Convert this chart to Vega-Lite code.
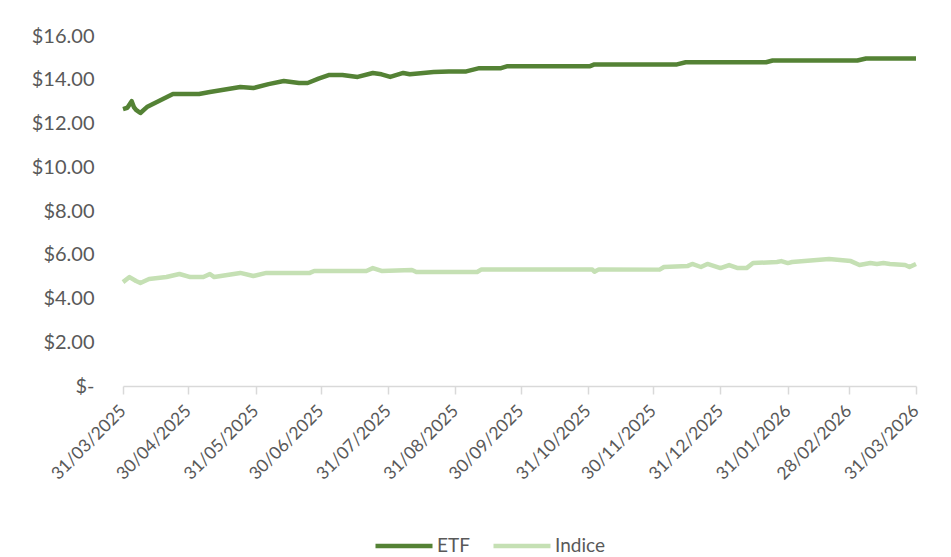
{
  "$schema": "https://vega.github.io/schema/vega-lite/v6.json",
  "width": 793,
  "height": 350,
  "autosize": {"type": "none"},
  "padding": {"left": 123, "top": 36, "right": 35, "bottom": 171},
  "background": "white",
  "view": {"stroke": null},
  "config": {"font": "Lato"},
  "datasets": {
    "prices": [
      {"date": "2025-03-31", "series": "ETF", "value": 12.66},
      {"date": "2025-04-02", "series": "ETF", "value": 12.72},
      {"date": "2025-04-04", "series": "ETF", "value": 13.02},
      {"date": "2025-04-05", "series": "ETF", "value": 12.75},
      {"date": "2025-04-06", "series": "ETF", "value": 12.62},
      {"date": "2025-04-08", "series": "ETF", "value": 12.48},
      {"date": "2025-04-11", "series": "ETF", "value": 12.75},
      {"date": "2025-04-17", "series": "ETF", "value": 13.05},
      {"date": "2025-04-23", "series": "ETF", "value": 13.35},
      {"date": "2025-05-05", "series": "ETF", "value": 13.35},
      {"date": "2025-05-10", "series": "ETF", "value": 13.44},
      {"date": "2025-05-17", "series": "ETF", "value": 13.55},
      {"date": "2025-05-24", "series": "ETF", "value": 13.67},
      {"date": "2025-05-30", "series": "ETF", "value": 13.62},
      {"date": "2025-06-06", "series": "ETF", "value": 13.80},
      {"date": "2025-06-13", "series": "ETF", "value": 13.94},
      {"date": "2025-06-20", "series": "ETF", "value": 13.85},
      {"date": "2025-06-24", "series": "ETF", "value": 13.85},
      {"date": "2025-06-29", "series": "ETF", "value": 14.05},
      {"date": "2025-07-04", "series": "ETF", "value": 14.22},
      {"date": "2025-07-10", "series": "ETF", "value": 14.22},
      {"date": "2025-07-17", "series": "ETF", "value": 14.13},
      {"date": "2025-07-24", "series": "ETF", "value": 14.31},
      {"date": "2025-07-28", "series": "ETF", "value": 14.25},
      {"date": "2025-08-01", "series": "ETF", "value": 14.13},
      {"date": "2025-08-07", "series": "ETF", "value": 14.31},
      {"date": "2025-08-10", "series": "ETF", "value": 14.25},
      {"date": "2025-08-15", "series": "ETF", "value": 14.30},
      {"date": "2025-08-21", "series": "ETF", "value": 14.35},
      {"date": "2025-08-28", "series": "ETF", "value": 14.38},
      {"date": "2025-09-05", "series": "ETF", "value": 14.38},
      {"date": "2025-09-11", "series": "ETF", "value": 14.53},
      {"date": "2025-09-21", "series": "ETF", "value": 14.53},
      {"date": "2025-09-24", "series": "ETF", "value": 14.62},
      {"date": "2025-11-01", "series": "ETF", "value": 14.62},
      {"date": "2025-11-03", "series": "ETF", "value": 14.70},
      {"date": "2025-12-11", "series": "ETF", "value": 14.70},
      {"date": "2025-12-15", "series": "ETF", "value": 14.80},
      {"date": "2026-01-21", "series": "ETF", "value": 14.80},
      {"date": "2026-01-24", "series": "ETF", "value": 14.88},
      {"date": "2026-03-04", "series": "ETF", "value": 14.88},
      {"date": "2026-03-08", "series": "ETF", "value": 14.97},
      {"date": "2026-03-31", "series": "ETF", "value": 14.97},
      {"date": "2025-03-31", "series": "Indice", "value": 4.75},
      {"date": "2025-04-03", "series": "Indice", "value": 4.98},
      {"date": "2025-04-06", "series": "Indice", "value": 4.80},
      {"date": "2025-04-08", "series": "Indice", "value": 4.71},
      {"date": "2025-04-12", "series": "Indice", "value": 4.89},
      {"date": "2025-04-20", "series": "Indice", "value": 4.98},
      {"date": "2025-04-26", "series": "Indice", "value": 5.12},
      {"date": "2025-05-01", "series": "Indice", "value": 4.98},
      {"date": "2025-05-07", "series": "Indice", "value": 4.98},
      {"date": "2025-05-10", "series": "Indice", "value": 5.12},
      {"date": "2025-05-12", "series": "Indice", "value": 4.98},
      {"date": "2025-05-24", "series": "Indice", "value": 5.17},
      {"date": "2025-05-30", "series": "Indice", "value": 5.03},
      {"date": "2025-06-05", "series": "Indice", "value": 5.17},
      {"date": "2025-06-25", "series": "Indice", "value": 5.17},
      {"date": "2025-06-27", "series": "Indice", "value": 5.26},
      {"date": "2025-07-21", "series": "Indice", "value": 5.26},
      {"date": "2025-07-24", "series": "Indice", "value": 5.39},
      {"date": "2025-07-28", "series": "Indice", "value": 5.26},
      {"date": "2025-08-11", "series": "Indice", "value": 5.30},
      {"date": "2025-08-13", "series": "Indice", "value": 5.21},
      {"date": "2025-09-10", "series": "Indice", "value": 5.21},
      {"date": "2025-09-12", "series": "Indice", "value": 5.33},
      {"date": "2025-11-02", "series": "Indice", "value": 5.33},
      {"date": "2025-11-03", "series": "Indice", "value": 5.22},
      {"date": "2025-11-05", "series": "Indice", "value": 5.33},
      {"date": "2025-12-03", "series": "Indice", "value": 5.32},
      {"date": "2025-12-05", "series": "Indice", "value": 5.44},
      {"date": "2025-12-16", "series": "Indice", "value": 5.49},
      {"date": "2025-12-18", "series": "Indice", "value": 5.58},
      {"date": "2025-12-22", "series": "Indice", "value": 5.44},
      {"date": "2025-12-25", "series": "Indice", "value": 5.58},
      {"date": "2025-12-31", "series": "Indice", "value": 5.39},
      {"date": "2026-01-04", "series": "Indice", "value": 5.53},
      {"date": "2026-01-08", "series": "Indice", "value": 5.39},
      {"date": "2026-01-12", "series": "Indice", "value": 5.39},
      {"date": "2026-01-15", "series": "Indice", "value": 5.62},
      {"date": "2026-01-26", "series": "Indice", "value": 5.67},
      {"date": "2026-01-28", "series": "Indice", "value": 5.71},
      {"date": "2026-01-31", "series": "Indice", "value": 5.62},
      {"date": "2026-02-02", "series": "Indice", "value": 5.67},
      {"date": "2026-02-19", "series": "Indice", "value": 5.81},
      {"date": "2026-03-01", "series": "Indice", "value": 5.71},
      {"date": "2026-03-05", "series": "Indice", "value": 5.53},
      {"date": "2026-03-10", "series": "Indice", "value": 5.62},
      {"date": "2026-03-13", "series": "Indice", "value": 5.58},
      {"date": "2026-03-16", "series": "Indice", "value": 5.62},
      {"date": "2026-03-19", "series": "Indice", "value": 5.58},
      {"date": "2026-03-26", "series": "Indice", "value": 5.53},
      {"date": "2026-03-28", "series": "Indice", "value": 5.44},
      {"date": "2026-03-31", "series": "Indice", "value": 5.58}
    ]
  },
  "data": {"name": "prices"},
  "mark": {"type": "line", "strokeWidth": 4.5, "strokeJoin": "round", "strokeCap": "butt"},
  "encoding": {
    "x": {
      "field": "date",
      "type": "temporal",
      "scale": {
        "type": "utc",
        "nice": false,
        "domain": [
          {"year": 2025, "month": 3, "date": 31, "utc": true},
          {"year": 2026, "month": 3, "date": 31, "utc": true}
        ]
      },
      "axis": {
        "title": null,
        "grid": false,
        "values": [
          {"year": 2025, "month": 3, "date": 31, "utc": true},
          {"year": 2025, "month": 4, "date": 30, "utc": true},
          {"year": 2025, "month": 5, "date": 31, "utc": true},
          {"year": 2025, "month": 6, "date": 30, "utc": true},
          {"year": 2025, "month": 7, "date": 31, "utc": true},
          {"year": 2025, "month": 8, "date": 31, "utc": true},
          {"year": 2025, "month": 9, "date": 30, "utc": true},
          {"year": 2025, "month": 10, "date": 31, "utc": true},
          {"year": 2025, "month": 11, "date": 30, "utc": true},
          {"year": 2025, "month": 12, "date": 31, "utc": true},
          {"year": 2026, "month": 1, "date": 31, "utc": true},
          {"year": 2026, "month": 2, "date": 28, "utc": true},
          {"year": 2026, "month": 3, "date": 31, "utc": true}
        ],
        "labelExpr": "utcFormat(datum.value, '%d/%m/%Y')",
        "labelAngle": -45,
        "labelAlign": "right",
        "labelBaseline": "middle",
        "labelFontSize": 17.5,
        "labelColor": "#595959",
        "labelPadding": 14,
        "labelOverlap": false,
        "labelFlush": false,
        "domainColor": "#D9D9D9",
        "domainWidth": 1.5,
        "tickColor": "#D9D9D9",
        "tickWidth": 1.5,
        "tickSize": 8
      }
    },
    "y": {
      "field": "value",
      "type": "quantitative",
      "scale": {"domain": [0, 16], "nice": false, "zero": true},
      "axis": {
        "title": null,
        "grid": false,
        "domain": false,
        "ticks": false,
        "values": [0, 2, 4, 6, 8, 10, 12, 14, 16],
        "labelExpr": "datum.value == 0 ? '$-\u00a0\u00a0\u00a0' : '$' + format(datum.value, '.2f')",
        "labelFontSize": 20,
        "labelColor": "#595959",
        "labelPadding": 29
      }
    },
    "color": {
      "field": "series",
      "type": "nominal",
      "scale": {"domain": ["ETF", "Indice"], "range": ["#548235", "#C5E0B4"]},
      "legend": {
        "title": null,
        "orient": "none",
        "direction": "horizontal",
        "legendX": 250,
        "legendY": 479,
        "symbolType": "stroke",
        "symbolSize": 3249,
        "symbolStrokeWidth": 4.5,
        "labelFontSize": 19,
        "labelColor": "#595959",
        "labelOffset": 2,
        "columnPadding": 14
      }
    }
  }
}
